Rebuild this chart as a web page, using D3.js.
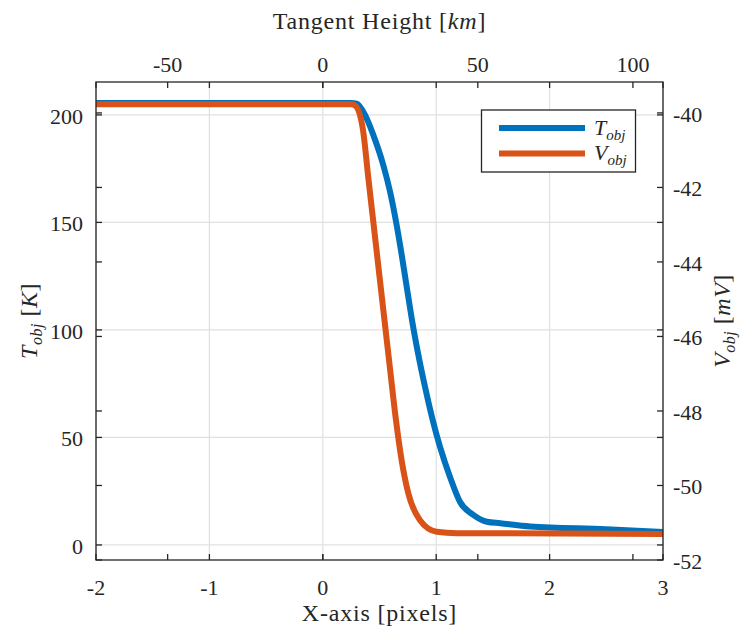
<!DOCTYPE html>
<html>
<head>
<meta charset="utf-8">
<script src="https://cdn.jsdelivr.net/npm/d3@7"></script>
<style>
  html, body { margin: 0; padding: 0; background: #fff; }
  svg { display: block; }
</style>
</head>
<body>
<svg id="chart" width="741" height="628" font-family="'Liberation Serif', 'Times New Roman', 'DejaVu Serif', serif"></svg>
<script>
// Object temperature profile (left axis, K) against X position (pixels)
const xT = [-2, 0.25, 0.299, 0.372, 0.445, 0.533, 0.593, 0.646, 0.696, 0.742, 0.789, 0.840, 0.901, 0.969, 1.033, 1.121, 1.209, 1.33, 1.447, 1.565, 1.83, 2.5, 3];
const T  = [205.5, 205.5, 205.2, 200, 190.7, 176.7, 164.3, 150.3, 134.8, 119.4, 103.8, 89.1, 73.6, 58.1, 45.7, 31.7, 20.1, 13.9, 10.8, 10.1, 8.6, 7.3, 6.0];

// Object voltage profile (right axis, mV)
const xV = [-2, 0.25, 0.284, 0.352, 0.402, 0.452, 0.502, 0.545, 0.594, 0.645, 0.695, 0.754, 0.857, 1.004, 1.181, 3];
const V  = [-39.77, -39.77, -39.8, -40.41, -41.76, -43.1, -44.44, -45.59, -46.9, -48.24, -49.32, -50.21, -50.93, -51.24, -51.28, -51.3];

// Axis ticks
const xTicks = [-2, -1, 0, 1, 2, 3];
const kmTicks = [-50, 0, 50, 100];
const tTicks = [0, 50, 100, 150, 200];
const vTicks = [-52, -50, -48, -46, -44, -42, -40];

const svg = d3.select("#chart");
const L = 96, R = 663, Tp = 82, B = 560;

const x = d3.scaleLinear().domain([-2, 3]).range([L, R]);
const xKm = d3.scaleLinear().domain([-73.1, 109.7]).range([L, R]);
const yT = d3.scaleLinear().domain([-7, 215.3]).range([B, Tp]);
const yV = d3.scaleLinear().domain([-52, -39.17]).range([B, Tp]);

const gridColor = "#e0e0e0";
const axisColor = "#262626";
const textColor = "#262626";
const tickLen = 6;

// grid
const grid = svg.append("g");
grid.selectAll(".gx").data(xTicks).join("line")
  .attr("x1", d => x(d)).attr("x2", d => x(d))
  .attr("y1", Tp).attr("y2", B)
  .attr("stroke", gridColor).attr("stroke-width", 1.2);
grid.selectAll(".gy").data(tTicks).join("line")
  .attr("x1", L).attr("x2", R)
  .attr("y1", d => yT(d)).attr("y2", d => yT(d))
  .attr("stroke", gridColor).attr("stroke-width", 1.2);

// data lines
svg.append("clipPath").attr("id", "plotclip")
  .append("rect").attr("x", L).attr("y", Tp).attr("width", R - L).attr("height", B - Tp);

const plot = svg.append("g").attr("clip-path", "url(#plotclip)");
const lineT = d3.line().x(d => x(d[0])).y(d => yT(d[1])).curve(d3.curveMonotoneX);
const lineV = d3.line().x(d => x(d[0])).y(d => yV(d[1])).curve(d3.curveMonotoneX);

plot.append("path").datum(d3.zip(xT, T))
  .attr("d", lineT).attr("fill", "none")
  .attr("stroke", "#0072BD").attr("stroke-width", 6).attr("stroke-linejoin", "round");
plot.append("path").datum(d3.zip(xV, V))
  .attr("d", lineV).attr("fill", "none")
  .attr("stroke", "#D95319").attr("stroke-width", 6).attr("stroke-linejoin", "round");

// axes (inward ticks, mirrored on the opposite edge)
const ax = svg.append("g").attr("stroke", axisColor).attr("stroke-width", 1.3);
ax.append("rect").attr("x", L).attr("y", Tp).attr("width", R - L).attr("height", B - Tp).attr("fill", "none");

const vx = xTicks.map(d => x(d)).concat(kmTicks.map(d => xKm(d)));
vx.forEach(px => {
  ax.append("line").attr("x1", px).attr("x2", px).attr("y1", B).attr("y2", B - tickLen);
  ax.append("line").attr("x1", px).attr("x2", px).attr("y1", Tp).attr("y2", Tp + tickLen);
});
const hy = tTicks.map(d => yT(d)).concat(vTicks.map(d => yV(d)));
hy.forEach(py => {
  ax.append("line").attr("x1", L).attr("x2", L + tickLen).attr("y1", py).attr("y2", py);
  ax.append("line").attr("x1", R).attr("x2", R - tickLen).attr("y1", py).attr("y2", py);
});

// tick labels
const lab = svg.append("g").style("font-size", "22px").attr("fill", textColor);
lab.selectAll(".bx").data(xTicks).join("text")
  .attr("x", d => x(d)).attr("y", 595).attr("text-anchor", "middle").text(d => d);
lab.selectAll(".tx").data(kmTicks).join("text")
  .attr("x", d => xKm(d)).attr("y", 72).attr("text-anchor", "middle").text(d => d);
lab.selectAll(".ly").data(tTicks).join("text")
  .attr("x", 83).attr("y", d => yT(d)).attr("dy", "0.4em").attr("text-anchor", "end").text(d => d);
lab.selectAll(".ry").data(vTicks).join("text")
  .attr("x", 673).attr("y", d => yV(d)).attr("dy", "0.4em").attr("text-anchor", "start").text(d => d);

// axis titles
const titles = svg.append("g").attr("fill", textColor).style("font-size", "24px");

const topTitle = titles.append("text").attr("x", (L + R) / 2).attr("y", 29)
  .attr("text-anchor", "middle").style("letter-spacing", "0.8px");
topTitle.append("tspan").text("Tangent Height [");
topTitle.append("tspan").style("font-style", "italic").text("km");
topTitle.append("tspan").text("]");

titles.append("text").attr("x", (L + R) / 2).attr("y", 621)
  .attr("text-anchor", "middle").style("letter-spacing", "0.8px").text("X-axis [pixels]");

function axisLabel(g, tx, symbol, unit) {
  const t = g.append("text")
    .attr("transform", `translate(${tx},${(Tp + B) / 2}) rotate(-90)`)
    .attr("text-anchor", "middle").style("letter-spacing", "0.5px");
  t.append("tspan").style("font-style", "italic").text(symbol);
  t.append("tspan").style("font-style", "italic").style("font-size", "16px").attr("dy", 5).text("obj");
  t.append("tspan").attr("dy", -5).text(" [");
  t.append("tspan").style("font-style", "italic").text(unit);
  t.append("tspan").text("]");
}
axisLabel(titles, 37, "T", "K");
axisLabel(titles, 730, "V", "mV");

// legend
const lg = svg.append("g");
lg.append("rect").attr("x", 481.5).attr("y", 110).attr("width", 154).attr("height", 62)
  .attr("fill", "#fff").attr("stroke", axisColor).attr("stroke-width", 1.3);
const entries = [
  { name: "T", color: "#0072BD", y: 128 },
  { name: "V", color: "#D95319", y: 153.5 }
];
entries.forEach(e => {
  lg.append("line").attr("x1", 499).attr("x2", 585).attr("y1", e.y).attr("y2", e.y)
    .attr("stroke", e.color).attr("stroke-width", 6);
  const t = lg.append("text").attr("x", 594).attr("y", e.y).attr("dy", "0.3em")
    .attr("fill", textColor).style("font-size", "22px");
  t.append("tspan").style("font-style", "italic").text(e.name);
  t.append("tspan").style("font-style", "italic").style("font-size", "15px").attr("dy", 5).text("obj");
});
</script>
</body>
</html>
